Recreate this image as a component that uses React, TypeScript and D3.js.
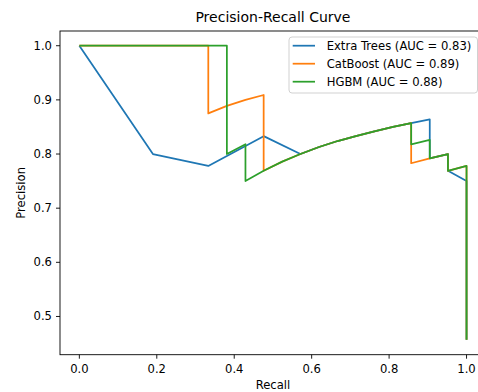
import React from 'react';
import * as d3 from 'd3';

// recall / precision pairs (recall ascending, as plotted)
const extraTreesRecall = [0, 0.19, 0.333, 0.476, 0.571, 0.619, 0.667, 0.714, 0.762, 0.81, 0.857, 0.905, 0.905, 0.952, 0.952, 1.0, 1.0];
const extraTreesPrecision = [1.0, 0.8, 0.778, 0.833, 0.8, 0.813, 0.824, 0.833, 0.842, 0.85, 0.857, 0.864, 0.792, 0.8, 0.769, 0.75, 0.457];

const catBoostRecall = [0, 0.333, 0.333, 0.381, 0.429, 0.476, 0.476, 0.524, 0.571, 0.619, 0.667, 0.714, 0.762, 0.81, 0.857, 0.857, 0.905, 0.952, 0.952, 1.0, 1.0];
const catBoostPrecision = [1.0, 1.0, 0.875, 0.889, 0.9, 0.909, 0.769, 0.786, 0.8, 0.813, 0.824, 0.833, 0.842, 0.85, 0.857, 0.783, 0.792, 0.8, 0.769, 0.778, 0.457];

const hgbmRecall = [0, 0.381, 0.381, 0.429, 0.429, 0.476, 0.524, 0.571, 0.619, 0.667, 0.714, 0.762, 0.81, 0.857, 0.857, 0.905, 0.905, 0.952, 0.952, 1.0, 1.0];
const hgbmPrecision = [1.0, 1.0, 0.8, 0.818, 0.75, 0.769, 0.786, 0.8, 0.813, 0.824, 0.833, 0.842, 0.85, 0.857, 0.818, 0.826, 0.792, 0.8, 0.769, 0.778, 0.457];

const seriesLabels = ['Extra Trees (AUC = 0.83)', 'CatBoost (AUC = 0.89)', 'HGBM (AUC = 0.88)'];
const seriesColors = ['#1f77b4', '#ff7f0e', '#2ca02c'];

const xTicks = [0.0, 0.2, 0.4, 0.6, 0.8, 1.0];
const yTicks = [0.5, 0.6, 0.7, 0.8, 0.9, 1.0];

const W = 478;
const H = 392;
const left = 60;
const right = 485.9;
const top = 31;
const bottom = 354.7;
const FONT = 'DejaVu Sans, sans-serif';

export default function App() {
  const x = d3.scaleLinear().domain([-0.05, 1.05]).range([left, right]);
  const y = d3.scaleLinear().domain([0.4294, 1.0272]).range([bottom, top]);

  const series = [
    d3.zip(extraTreesRecall, extraTreesPrecision),
    d3.zip(catBoostRecall, catBoostPrecision),
    d3.zip(hgbmRecall, hgbmPrecision)
  ];

  const line = d3
    .line<number[]>()
    .x(d => x(d[0]))
    .y(d => y(d[1]));

  // legend box, upper right
  const lgX = 289;
  const lgY = 37;
  const lgW = 188.5;
  const rowH = 18;

  return (
    <svg
      width={W}
      height={H}
      style={{ position: 'absolute', left: 0, top: 0, background: 'white' }}
      fontFamily={FONT}
    >
      <defs>
        <clipPath id="plot">
          <rect x={left} y={top} width={right - left} height={bottom - top} />
        </clipPath>
      </defs>

      <text x={(left + right) / 2} y={22} textAnchor="middle" fontSize={14} fill="#000">
        Precision-Recall Curve
      </text>

      <g clipPath="url(#plot)">
        {series.map((pts, i) => (
          <path
            key={i}
            d={line(pts) || ''}
            fill="none"
            stroke={seriesColors[i]}
            strokeWidth={1.75}
            strokeLinejoin="round"
          />
        ))}
      </g>

      {/* spines */}
      <rect
        x={left}
        y={top}
        width={right - left}
        height={bottom - top}
        fill="none"
        stroke="#000"
        strokeWidth={0.9}
      />

      {/* x axis */}
      {xTicks.map(t => (
        <g key={'x' + t}>
          <line x1={x(t)} x2={x(t)} y1={bottom} y2={bottom + 4} stroke="#000" strokeWidth={0.9} />
          <text x={x(t)} y={373.3} textAnchor="middle" fontSize={11.6} fill="#000">
            {t.toFixed(1)}
          </text>
        </g>
      ))}
      <text x={(left + right) / 2} y={388.5} textAnchor="middle" fontSize={11.6} fill="#000">
        Recall
      </text>

      {/* y axis */}
      {yTicks.map(t => (
        <g key={'y' + t}>
          <line x1={left - 4} x2={left} y1={y(t)} y2={y(t)} stroke="#000" strokeWidth={0.9} />
          <text
            x={52}
            y={y(t)}
            textAnchor="end"
            dominantBaseline="central"
            fontSize={11.6}
            fill="#000"
          >
            {t.toFixed(1)}
          </text>
        </g>
      ))}
      <text
        transform={`translate(25, ${(top + bottom) / 2}) rotate(-90)`}
        textAnchor="middle"
        fontSize={11.6}
        fill="#000"
      >
        Precision
      </text>

      {/* legend */}
      <rect
        x={lgX}
        y={lgY}
        width={lgW}
        height={56}
        rx={3}
        fill="white"
        fillOpacity={0.8}
        stroke="#cccccc"
        strokeWidth={0.9}
      />
      {seriesLabels.map((label, i) => (
        <g key={label}>
          <line
            x1={292.7}
            x2={315}
            y1={45.7 + i * rowH}
            y2={45.7 + i * rowH}
            stroke={seriesColors[i]}
            strokeWidth={1.75}
          />
          <text
            x={326.7}
            y={45.7 + i * rowH}
            dominantBaseline="central"
            fontSize={11.6}
            fill="#000"
          >
            {label}
          </text>
        </g>
      ))}
    </svg>
  );
}
